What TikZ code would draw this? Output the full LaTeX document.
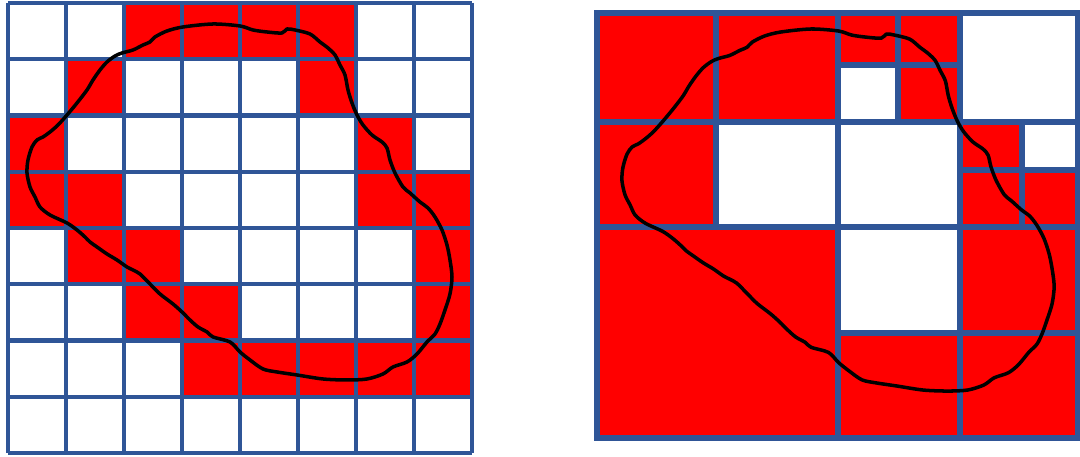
\documentclass[tikz,border=0pt]{standalone}
\usetikzlibrary{positioning}
\definecolor{cGrid}{HTML}{2F5597}
\definecolor{cHit}{HTML}{FF0000}
\tikzset{
  gridln/.style={draw=cGrid, line width=1.15pt},
  treeln/.style={draw=cGrid, line width=1.75pt},
  hit/.style={fill=cHit},
  free/.style={fill=white},
  blob/.style={draw=black, line width=1pt, line join=round},
}
% hand-drawn outline, in pixel units of the left panel
\newcommand{\blobshape}{plot[smooth cycle, tension=0.5] coordinates {
  (183,27) (213,24) (240,26) (253,30) (267,32) (282,33) (287,29) (295,30) (310,34) (320,42)
  (328,48) (335,55) (340,65) (345,75) (348,90) (352,103) (357,115) (363,125) (372,135) (382,142)
  (387,148) (390,160) (395,173) (403,187) (410,193) (420,202) (428,208) (435,217) (442,230) (447,245)
  (450,260) (452,277) (450,294) (445,310) (440,324) (435,334) (427,342) (417,354) (407,362) (393,367)
  (383,374) (367,379) (347,380) (323,379) (297,375) (277,372) (263,369) (250,360) (240,352) (230,342)
  (213,337) (207,332) (198,327) (190,320) (182,312) (173,304) (160,294) (150,284) (140,274) (133,270)
  (127,267) (117,260) (107,254) (97,247) (90,242) (85,237) (77,230) (67,223) (50,215) (40,207)
  (35,197) (30,187) (27,173) (28,160) (32,147) (37,140) (43,137) (50,132) (58,125) (67,115)
  (77,103) (87,90) (93,80) (100,70) (107,62) (115,56) (122,53) (133,50) (143,45) (150,42)
  (155,37) (167,31)}}

\begin{document}
\begin{tikzpicture}[x=0.1mm, y=-0.1mm]
  \useasboundingbox (0,0) rectangle (1080,457);
  \fill[white] (0,0) rectangle (1080,457);

  % left: uniform 8x8 grid
  \foreach \c/\r in {2/0,3/0,4/0,5/0, 1/1,5/1, 0/2,6/2, 0/3,1/3,6/3,7/3,
                     1/4,2/4,7/4, 2/5,3/5,7/5, 3/6,4/6,5/6,6/6,7/6}
    \fill[hit] (8+58*\c,3+56.25*\r) rectangle ++(58,56.25);
  \foreach \i in {0,...,8} {
    \draw[gridln] (8+58*\i,3) -- (8+58*\i,453);
    \draw[gridln] (8,3+56.25*\i) -- (472,3+56.25*\i);
  }
  \draw[blob] \blobshape;

  % right: quadtree
  \fill[hit] (597,13) rectangle (1078,438);
  \foreach \xa/\ya/\xb/\yb in {716/122/838/227, 838/65/898/122, 960/13/1078/122,
                               838/122/960/227, 1022/122/1078/170, 838/227/960/333}
    \fill[free] (\xa,\ya) rectangle (\xb,\yb);
  \draw[treeln] (597,13) rectangle (1078,438);
  \draw[treeln] (838,13) -- (838,438) (597,227) -- (1078,227)
    (716,13) -- (716,227) (597,122) -- (1078,122)
    (960,13) -- (960,227) (898,13) -- (898,122) (838,65) -- (960,65)
    (1022,122) -- (1022,227) (960,170) -- (1078,170)
    (960,227) -- (960,438) (838,333) -- (1078,333);
  \begin{scope}[xshift=59.45mm, yshift=-0.46mm, scale=1.017]
    \draw[blob] \blobshape;
  \end{scope}
\end{tikzpicture}
\end{document}
